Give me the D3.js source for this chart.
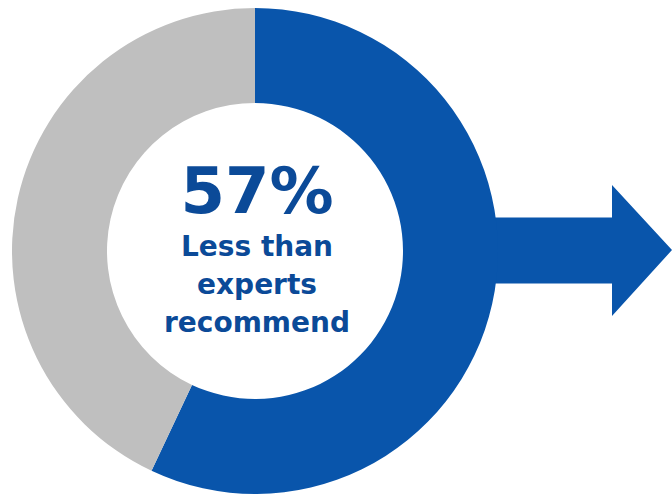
<!DOCTYPE html>
<html>
<head>
<meta charset="utf-8">
<script src="https://cdn.jsdelivr.net/npm/d3@7"></script>
<style>
  html, body { margin: 0; padding: 0; background: #fff; }
</style>
</head>
<body>
<div id="chart"></div>
<script>
const categories = ['Less than experts recommend', 'Other'];
const values = [57, 43];
const colors = ['#0955ab', '#bfbfbf'];
const labelLines = ['Less than', 'experts', 'recommend'];

let width = 672,
    height = 495,
    cx = 255,
    cy = 251,
    outerR = 243,
    innerR = 148;

const svg = d3.select('#chart')
  .append('svg')
  .attr('xmlns', 'http://www.w3.org/2000/svg')
  .attr('width', width)
  .attr('height', height);

// arrow behind the ring
svg.append('path')
  .attr('d', d3.line()([
    [460, 217.5], [612, 217.5], [612, 185], [672, 250],
    [612, 316], [612, 283.5], [460, 283.5]
  ]) + 'Z')
  .attr('fill', colors[0]);

const g = svg.append('g')
  .attr('transform', 'translate(' + cx + ',' + cy + ')');

const pie = d3.pie().sort(null).value(d => d.value);
const arc = d3.arc().innerRadius(innerR).outerRadius(outerR);

const data_ready = pie(categories.map((c, i) => ({ key: c, value: values[i] })));

g.selectAll('path.slice')
  .data(data_ready)
  .enter()
  .append('path')
  .attr('class', 'slice')
  .attr('d', arc)
  .attr('fill', (d, i) => colors[i]);

// centre label
g.append('text')
  .attr('x', 2)
  .attr('y', -38)
  .attr('text-anchor', 'middle')
  .style('font-family', '"DejaVu Sans", Verdana, sans-serif')
  .style('font-weight', 'bold')
  .style('font-size', '64px')
  .attr('fill', '#0b4a98')
  .text(values[0] + '%');

g.selectAll('text.lbl')
  .data(labelLines)
  .enter()
  .append('text')
  .attr('class', 'lbl')
  .attr('x', 2)
  .attr('y', (d, i) => 5 + i * 38)
  .attr('text-anchor', 'middle')
  .style('font-family', '"DejaVu Sans", Verdana, sans-serif')
  .style('font-weight', 'bold')
  .style('font-size', '28px')
  .attr('fill', '#0b4a98')
  .text(d => d);
</script>
</body>
</html>
